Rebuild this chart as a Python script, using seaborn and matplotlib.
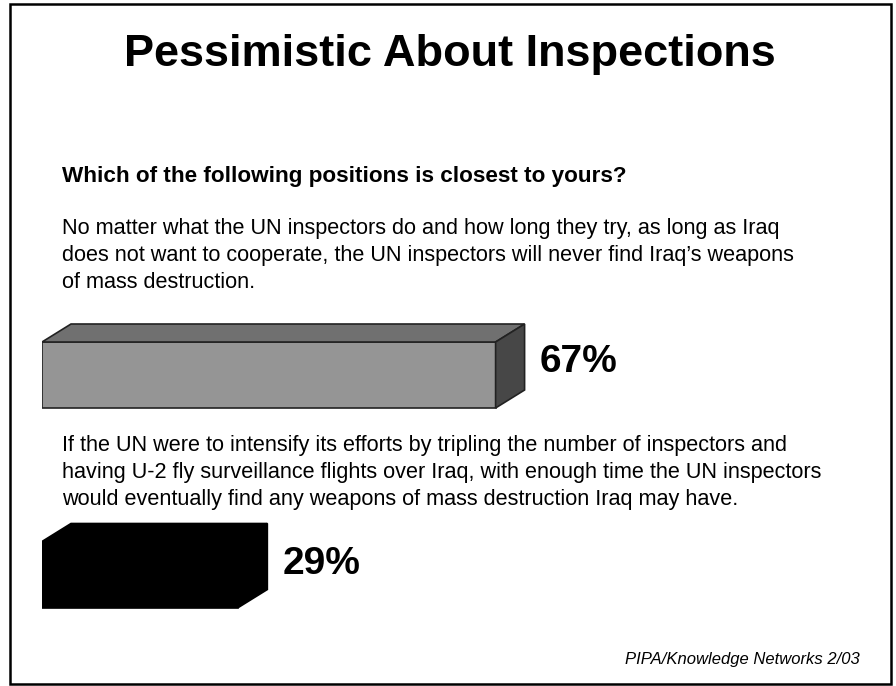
import matplotlib
matplotlib.use('Agg')
import matplotlib.pyplot as plt
import seaborn as sns
import pandas as pd
from matplotlib.patches import Polygon, Rectangle

# ---- data ----
categories = ['Never find weapons', 'Eventually find weapons']
values = [67, 29]
value_labels = ['67%', '29%']
front_colors = ['#959595', '#000000']
top_colors = ['#707070', '#000000']
side_colors = ['#474747', '#000000']
edge_colors = ['#222222', '#000000']

title = 'Pessimistic About Inspections'
question = 'Which of the following positions is closest to yours?'
statement1 = ['No matter what the UN inspectors do and how long they try, as long as Iraq',
              'does not want to cooperate, the UN inspectors will never find Iraq\u2019s weapons',
              'of mass destruction.']
statement2 = ['If the UN were to intensify its efforts by tripling the number of inspectors and',
              'having U-2 fly surveillance flights over Iraq, with enough time the UN inspectors',
              'would eventually find any weapons of mass destruction Iraq may have.']
source = 'PIPA/Knowledge Networks 2/03'

# ---- figure ----
W, H = 896, 686
sns.set_style('white')
plt.rcParams['font.family'] = ['Liberation Sans', 'DejaVu Sans']
plt.rcParams['text.color'] = 'black'
fig = plt.figure(figsize=(W / 100, H / 100), dpi=100)
fig.patch.set_facecolor('white')


def fx(px):
    return px / W


def fy(py):
    return 1 - py / H


# frame
fig.add_artist(Rectangle((fx(10), fy(684)), fx(881), 680 / H, transform=fig.transFigure,
                         fill=False, edgecolor='black', linewidth=1.8))

fig.text(fx(450), fy(66), title, ha='center', va='baseline', fontsize=32.5, fontweight='bold',
         color='black')
fig.text(fx(62), fy(182), question, ha='left', va='baseline', fontsize=16.2, fontweight='bold',
         color='black')
for k, line in enumerate(statement1):
    fig.text(fx(62), fy(234 + 27 * k), line, ha='left', va='baseline', fontsize=15.6, color='black')
for k, line in enumerate(statement2):
    fig.text(fx(62), fy(451 + 27 * k), line, ha='left', va='baseline', fontsize=15.6, color='black')
fig.text(fx(860), fy(664), source, ha='right', va='baseline', fontsize=12, style='italic',
         color='black')

# ---- bars ----
px_per_unit = 6.77
row_gap = 199.5
ax = fig.add_axes([fx(42), (H - 674.25) / H, 677 / W, 399 / H])
df = pd.DataFrame({'cat': categories, 'val': values})
sns.barplot(data=df, x='val', y='cat', hue='cat', palette=front_colors, orient='h',
            width=66 / row_gap, ax=ax, legend=False, linewidth=1.2, saturation=1)
ax.set_xlim(0, 100)
ax.set_ylim(1.5, -0.5)
ax.axis('off')

dx = 29 / px_per_unit
dy = 18 / row_gap
for i, (p, tc, sc, ec, lab) in enumerate(zip(ax.patches, top_colors, side_colors, edge_colors,
                                             value_labels)):
    p.set_edgecolor(ec)
    x0 = p.get_x()
    v = p.get_width()
    y0 = p.get_y()
    h = p.get_height()
    top = Polygon([(x0, y0), (x0 + v, y0), (x0 + v + dx, y0 - dy), (x0 + dx, y0 - dy)],
                  closed=True, facecolor=tc, edgecolor=ec, linewidth=1.2)
    side = Polygon([(x0 + v, y0), (x0 + v + dx, y0 - dy), (x0 + v + dx, y0 + h - dy), (x0 + v, y0 + h)],
                   closed=True, facecolor=sc, edgecolor=ec, linewidth=1.2)
    ax.add_patch(top)
    ax.add_patch(side)
    ax.text(x0 + v + dx + 2.2, y0 + h / 2 - 0.015 + 0.015 * i, lab, ha='left', va='baseline',
            fontsize=28, fontweight='bold', color='black')

fig.savefig('out.png', dpi=100, facecolor='white')
